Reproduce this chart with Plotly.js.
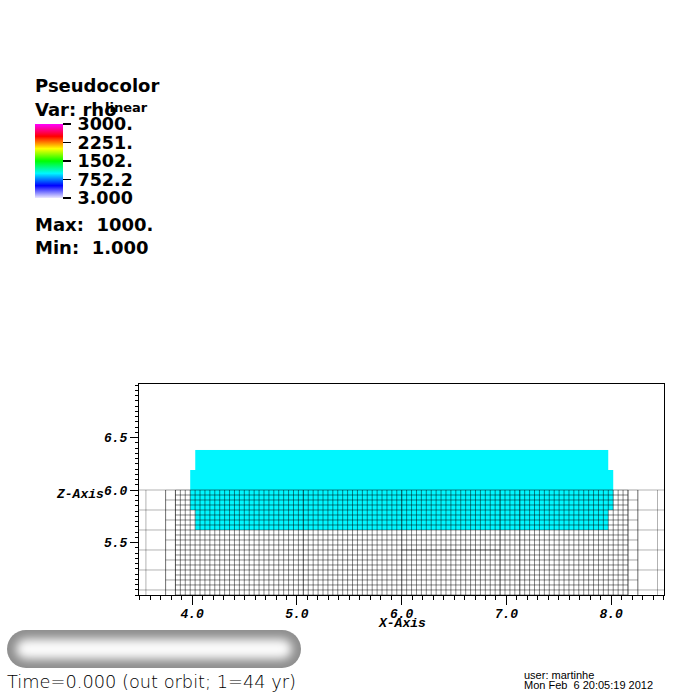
<!DOCTYPE html>
<html>
<head>
<meta charset="utf-8">
<script src="https://cdn.plot.ly/plotly-3.0.1.min.js"></script>
<style>
  html, body { margin: 0; padding: 0; background: #fff; }
  #plot { width: 700px; height: 700px; }
</style>
</head>
<body>
<div id="plot"></div>
<script>
// ---- pseudocolor field: rho on cell edges (x, z) ----
const rhoX = [3.981, 4.028, 7.972, 8.019];
const rhoZ = [5.619, 5.810, 6.190, 6.381];
const rho = [
  [null, 1000, null],
  [1000, 1000, 1000],
  [null, 1000, null]
];
const rhoMin = 3.0, rhoMax = 3000.0;
const legendTickVals = [3.0, 752.2, 1502, 2251, 3000];
const legendTickText = ['3.000', '752.2', '1502.', '2251.', '3000.'];
const dataMax = '1000.', dataMin = '1.000';

// ---- AMR mesh: column ranges (in fine cells from the centre) and refinement step ----
const meshCenterX = 6.0, meshTopZ = 6.0;
const fineCellX = 0.04696, fineCellZ = 0.0476;
const meshRows = 24;
const meshBlockCols = [[-56, -48], [-48, -46], [-46, 46], [46, 48], [48, 56]];
const meshBlockStep = [4, 2, 1, 2, 4];
const patchCols = [-20, 0, 20, 24];
const patchRow = 12, patchRowCols = [0, 20];

// ---- axis ticks ----
const xTickVals = [4, 5, 6, 7, 8];
const zTickVals = [5.5, 6.0, 6.5];

// page geometry (pixels)
const W = 700, H = 700, ML = 139, MR = 36, MT = 384, MB = 105;
const PW = W - ML - MR, PH = H - MT - MB;
const px = x => (x - ML) / PW;
const py = y => (H - MB - y) / PH;

// build mesh polylines from the block definitions
function lineSet() { return { x: [], y: [] }; }
const levelLines = { 1: lineSet(), 2: lineSet(), 4: lineSet() };
const zBottom = meshTopZ - meshRows * fineCellZ;
meshBlockCols.forEach((cols, i) => {
  const step = meshBlockStep[i];
  const set = levelLines[step];
  const x0 = meshCenterX + cols[0] * fineCellX;
  const x1 = meshCenterX + cols[1] * fineCellX;
  for (let c = cols[0]; c <= cols[1]; c += step) {
    const xv = meshCenterX + c * fineCellX;
    set.x.push(xv, xv, null);
    set.y.push(meshTopZ, zBottom, null);
  }
  for (let r = 0; r <= meshRows; r += step) {
    const zv = meshTopZ - r * fineCellZ;
    set.x.push(x0, x1, null);
    set.y.push(zv, zv, null);
  }
});
const patchLines = lineSet();
patchCols.forEach(c => {
  const xv = meshCenterX + c * fineCellX;
  patchLines.x.push(xv, xv, null);
  patchLines.y.push(meshTopZ, zBottom, null);
});
{
  const zv = meshTopZ - patchRow * fineCellZ;
  patchLines.x.push(meshCenterX + patchRowCols[0] * fineCellX, meshCenterX + patchRowCols[1] * fineCellX, null);
  patchLines.y.push(zv, zv, null);
}

const rainbow = [
  [0.0, 'rgb(236,232,255)'],
  [0.1667, 'rgb(0,0,255)'],
  [0.3333, 'rgb(0,247,255)'],
  [0.5, 'rgb(0,255,0)'],
  [0.6667, 'rgb(255,255,0)'],
  [0.8333, 'rgb(255,0,0)'],
  [1.0, 'rgb(255,0,255)']
];

const legendFont = { family: 'DejaVu Sans', size: 18, color: '#000', weight: 'bold' };
const axisFont = { family: 'Liberation Mono', size: 13, color: '#000', weight: 'bold', style: 'italic' };

const traces = [
  {
    type: 'heatmap', x: rhoX, y: rhoZ, z: rho,
    zmin: rhoMin, zmax: rhoMax, colorscale: rainbow, zsmooth: false,
    hoverinfo: 'skip',
    colorbar: {
      xref: 'paper', yref: 'paper',
      x: px(35), xanchor: 'left', y: py(124), yanchor: 'top',
      len: 74, lenmode: 'pixels', thickness: 28, thicknessmode: 'pixels',
      xpad: 0, ypad: 0, outlinewidth: 0,
      tickmode: 'array', tickvals: legendTickVals,
      ticktext: legendTickText.map(t => '\u2009' + t),
      ticks: 'outside', ticklen: 8, tickwidth: 1.5, tickcolor: '#000',
      tickfont: { family: 'DejaVu Sans', size: 17.5, color: '#000', weight: 'bold' }
    }
  }
];
[[4, 'rgba(0,0,0,0.30)'], [2, 'rgba(0,0,0,0.36)'], [1, 'rgba(0,0,0,0.48)']].forEach(([lv, col]) => {
  traces.push({
    type: 'scatter', mode: 'lines', x: levelLines[lv].x, y: levelLines[lv].y,
    line: { color: col, width: 1 }, hoverinfo: 'skip', showlegend: false
  });
});
traces.push({
  type: 'scatter', mode: 'lines', x: patchLines.x, y: patchLines.y,
  line: { color: 'rgba(0,0,0,0.35)', width: 1 }, hoverinfo: 'skip', showlegend: false
});

// rounded time-slider bar, drawn as an inline SVG
const barSvg =
  "<svg xmlns='http://www.w3.org/2000/svg' width='294' height='38' viewBox='0 0 294 38'>" +
  "<defs><clipPath id='c'><rect x='0' y='0' width='294' height='38' rx='19' ry='19'/></clipPath>" +
  "<filter id='b' x='-20%' y='-50%' width='140%' height='200%'><feGaussianBlur stdDeviation='5'/></filter></defs>" +
  "<g clip-path='url(#c)'><rect x='0' y='0' width='294' height='38' fill='#8e8e8e'/>" +
  "<rect x='9' y='9' width='276' height='20' rx='10' fill='#fbfbfb' filter='url(#b)'/></g></svg>";
const barSrc = 'data:image/svg+xml;charset=utf-8,' + encodeURIComponent(barSvg);

const ann = (text, x, y, font, xanchor) => ({
  text, x: px(x), y: py(y), xref: 'paper', yref: 'paper',
  xanchor: xanchor || 'left', yanchor: 'middle', showarrow: false, font
});

const layout = {
  width: W, height: H,
  margin: { l: ML, r: MR, t: MT, b: MB, pad: 0 },
  paper_bgcolor: '#fff', plot_bgcolor: '#fff',
  showlegend: false,
  xaxis: {
    range: [3.492, 8.504], showgrid: false, zeroline: false,
    showline: true, mirror: true, linecolor: '#000', linewidth: 1,
    tickmode: 'array', tickvals: xTickVals, tickformat: '.1f',
    ticks: 'outside', ticklen: 9, tickwidth: 1, tickcolor: '#000',
    tickfont: axisFont, ticklabelstandoff: -3,
    minor: { tickmode: 'linear', tick0: 0, dtick: 0.1, ticks: 'outside', ticklen: 4, tickwidth: 1, tickcolor: '#000', showgrid: false }
  },
  yaxis: {
    range: [5.0, 7.0095], showgrid: false, zeroline: false,
    showline: true, mirror: true, linecolor: '#000', linewidth: 1,
    tickmode: 'array', tickvals: zTickVals, tickformat: '.1f',
    ticks: 'outside', ticklen: 8, tickwidth: 1, tickcolor: '#000',
    tickfont: axisFont,
    minor: { tickmode: 'linear', tick0: 0, dtick: 0.05, ticks: 'outside', ticklen: 3, tickwidth: 1, tickcolor: '#000', showgrid: false }
  },
  images: [{
    source: barSrc, xref: 'paper', yref: 'paper',
    x: px(7), y: py(630), sizex: 294 / PW, sizey: 38 / PH,
    xanchor: 'left', yanchor: 'top', sizing: 'stretch', layer: 'above'
  }],
  annotations: [
    ann('Pseudocolor', 33, 85.3, legendFont),
    ann('Var: rho', 33, 109.6, legendFont),
    ann('linear', 103, 107.8, { family: 'DejaVu Sans', size: 13, color: '#000', weight: 'bold' }),
    ann('Max:\u00a0\u00a0' + dataMax, 33, 224.6, legendFont),
    ann('Min:\u00a0\u00a0' + dataMin, 33, 247.6, legendFont),
    ann('X-Axis', 401.5, 623, axisFont, 'center'),
    ann('Z-Axis', 54, 494, axisFont),
    ann('Time=0.000 (out orbit; 1=44 yr)', 5, 681.3, { family: 'DejaVu Sans', size: 17.8, color: '#000', weight: 200 }),
    ann('user: martinhe', 522, 675, { family: 'Liberation Sans', size: 11, color: '#000' }),
    ann('Mon Feb\u00a0\u00a06 20:05:19 2012', 522, 684.5, { family: 'Liberation Sans', size: 11, color: '#000' })
  ]
};

Plotly.newPlot('plot', traces, layout, { displayModeBar: false, staticPlot: true });
</script>
</body>
</html>
